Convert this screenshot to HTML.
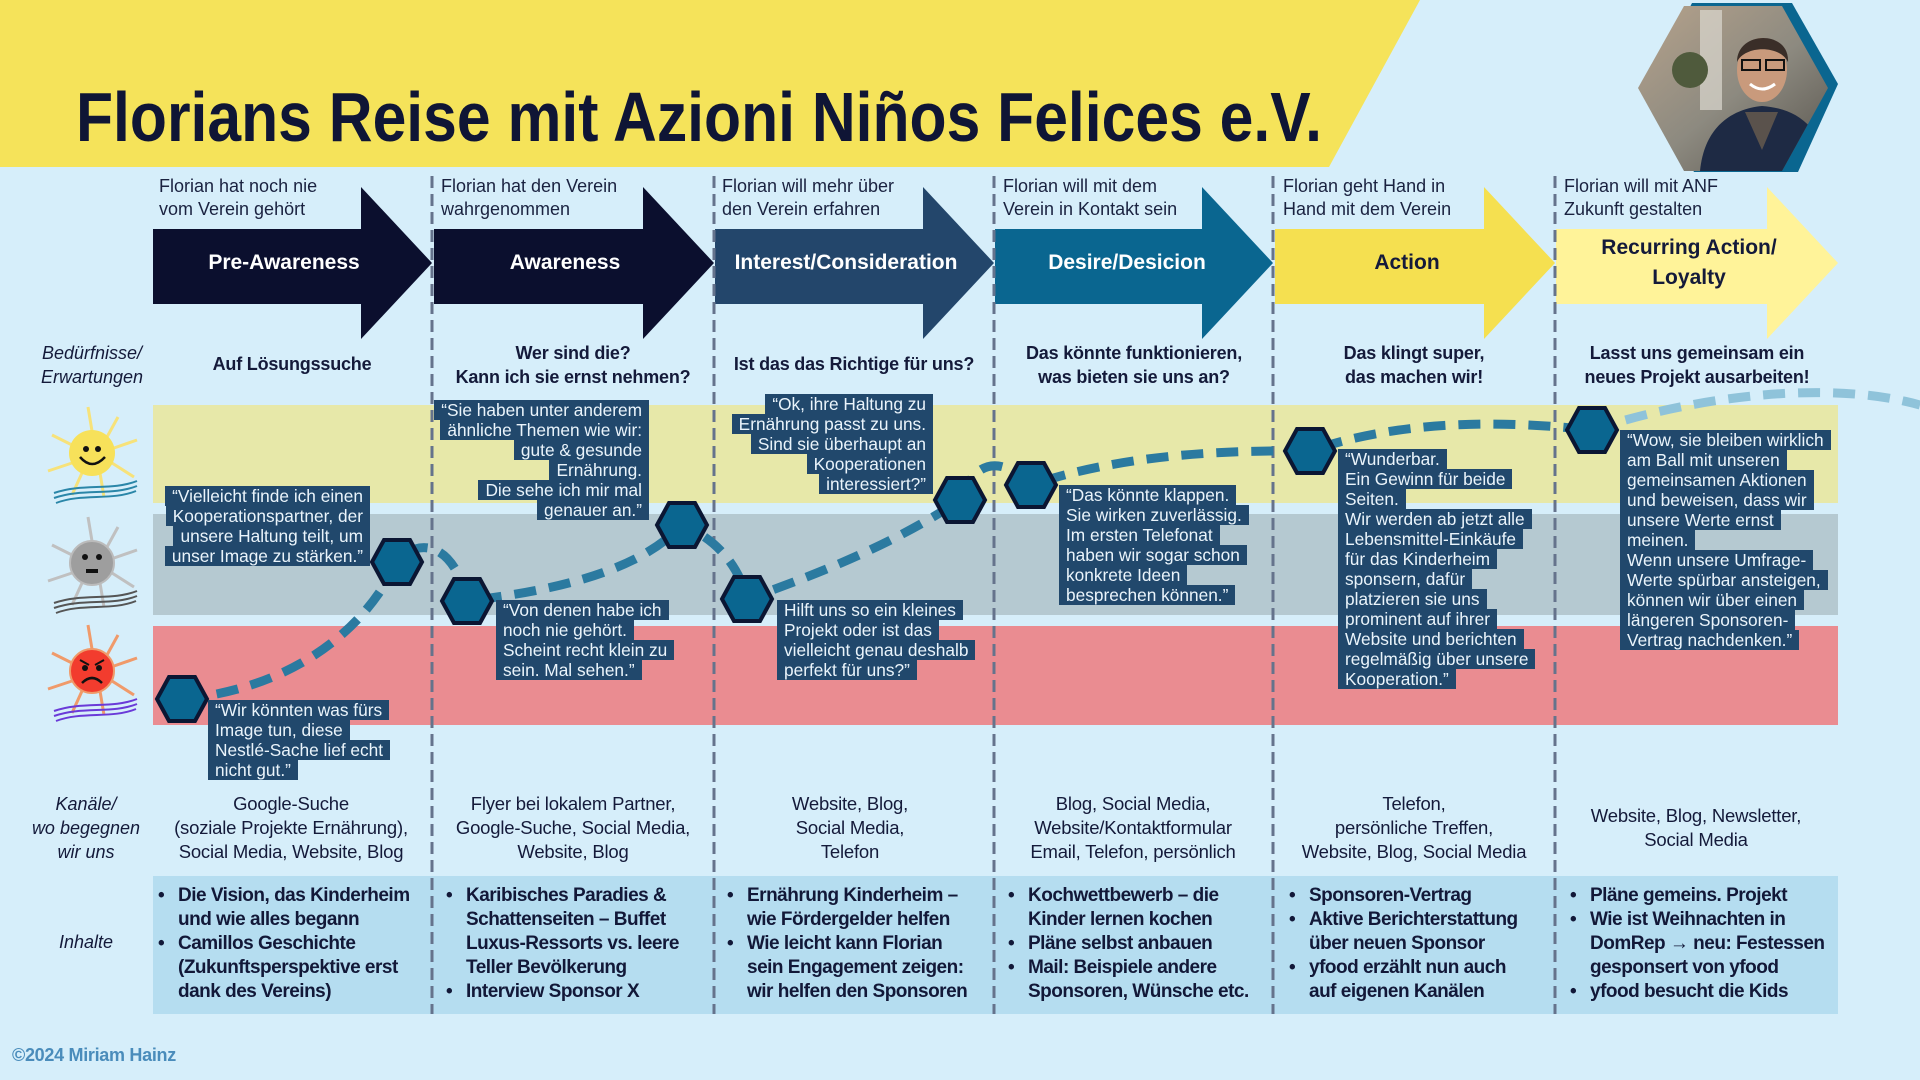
<!DOCTYPE html>
<html><head><meta charset="utf-8">
<style>
*{margin:0;padding:0;box-sizing:border-box}
body{width:1920px;height:1080px;overflow:hidden;background:#d6eefa;font-family:"Liberation Sans",sans-serif;position:relative;color:#141a3a}
.a{position:absolute}
.top{font-size:18px;line-height:23px;color:#1a2240}
.need{font-weight:bold;font-size:18px;line-height:24px;text-align:center;width:300px;margin-left:-150px;letter-spacing:-0.2px}
.ch{font-size:18.5px;line-height:24px;text-align:center;width:300px;margin-left:-150px;letter-spacing:-0.2px}
.lab{font-style:italic;font-size:18px;line-height:24px;text-align:center;width:160px;margin-left:-80px}
.q{position:absolute;font-size:17.3px;line-height:20px;color:#eaf4fb}
.q span{display:inline-block;background:#21486c;padding:0 7px;white-space:nowrap;vertical-align:top}
.q.r{text-align:right}
.ct{font-weight:bold;font-size:19px;line-height:24px;letter-spacing:-0.5px;color:#121838}
.ct div{position:relative;padding-left:20px}
.ct div:before{content:"•";position:absolute;left:0}
.al{font-weight:bold;font-size:21px;text-align:center;width:260px;margin-left:-130px;line-height:30px}
</style></head><body>
<svg class="a" style="left:0;top:0" width="1920" height="1080" viewBox="0 0 1920 1080">
<polygon points="0,0 1420,0 1329,167 0,167" fill="#f5e35a"/>
<text x="76" y="141" font-family="Liberation Sans" font-weight="bold" font-size="70" fill="#0f1535" textLength="1246" lengthAdjust="spacingAndGlyphs">Florians Reise mit Azioni Niños Felices e.V.</text>
<!-- photo -->
<polygon points="1648,88 1692,3 1792,3 1838,84 1798,172 1694,172" fill="#0a6690"/>
<defs><linearGradient id="pg" x1="0" x2="1" y1="0" y2="1"><stop offset="0" stop-color="#b9a48c"/><stop offset="0.5" stop-color="#8d8a80"/><stop offset="1" stop-color="#4e4a44"/></linearGradient>
<clipPath id="hc"><polygon points="1638,88 1684,6 1782,6 1828,88 1782,171 1684,171"/></clipPath></defs>
<g clip-path="url(#hc)">
<rect x="1630" y="0" width="220" height="180" fill="url(#pg)"/>
<rect x="1700" y="10" width="22" height="100" fill="#dcd8d0" opacity="0.7"/>
<circle cx="1690" cy="70" r="18" fill="#4f5a3c"/>
<path d="M1700,171 C1705,120 1740,108 1762,106 C1790,108 1820,120 1830,171 Z" fill="#1e2a44"/>
<path d="M1745,112 L1762,150 L1778,112 Z" fill="#5a524c"/>
<ellipse cx="1762" cy="70" rx="25" ry="32" fill="#c99a7c"/>
<path d="M1737,62 C1737,30 1790,30 1788,62 C1780,45 1745,45 1737,62Z" fill="#3a2e28"/>
<rect x="1742" y="60" width="18" height="10" fill="none" stroke="#111" stroke-width="2"/>
<rect x="1766" y="60" width="18" height="10" fill="none" stroke="#111" stroke-width="2"/>
<path d="M1750,84 Q1762,94 1775,84" stroke="#fff" stroke-width="3" fill="none"/>
</g>
<!-- bands -->
<rect x="153" y="405" width="1685" height="98" fill="#e7e8a9"/>
<rect x="153" y="514" width="1685" height="101" fill="#b5c9d1"/>
<rect x="153" y="626" width="1685" height="99" fill="#ea8c91"/>
<rect x="153" y="876" width="1685" height="138" fill="#b5ddf0"/>
<!-- arrows -->
<g>
<polygon points="153,229 361,229 361,187 432,263 361,339 361,304 153,304" fill="#0b0f2e"/>
<polygon points="434,229 643,229 643,187 714,263 643,339 643,304 434,304" fill="#0b0f2e"/>
<polygon points="715,229 923,229 923,187 994,263 923,339 923,304 715,304" fill="#23466b"/>
<polygon points="995,229 1202,229 1202,187 1273,263 1202,339 1202,304 995,304" fill="#0a6690"/>
<polygon points="1275,229 1484,229 1484,187 1555,263 1484,339 1484,304 1275,304" fill="#f5e050"/>
<polygon points="1556,229 1767,229 1767,187 1838,263 1767,339 1767,304 1556,304" fill="#fff399"/>
</g>
<!-- dividers -->
<g stroke="#65738c" stroke-width="3" stroke-dasharray="12 6">
<line x1="432" y1="176" x2="432" y2="1014"/><line x1="714" y1="176" x2="714" y2="1014"/><line x1="994" y1="176" x2="994" y2="1014"/><line x1="1273" y1="176" x2="1273" y2="1014"/><line x1="1555" y1="176" x2="1555" y2="1014"/>
</g>
<!-- path -->
<g fill="none" stroke-width="9" stroke-dasharray="22 13">
<path stroke="#2b7aa0" d="M182,699 C280,690 360,640 397,562 C420,535 455,545 467,601 C560,590 640,570 682,525 C720,540 740,570 747,599 C830,570 900,540 960,500 C975,460 1000,455 1031,485 C1120,455 1220,450 1310,451 C1400,420 1500,420 1592,430"/>
<path stroke="#8fc3da" d="M1592,430 C1700,395 1830,380 1920,405"/>
</g>
<!-- hexes -->
<g fill="#0a6690" stroke="#0b1633" stroke-width="4">
<polygon points="-25,0 -13,-22 13,-22 25,0 13,22 -13,22" transform="translate(182,699)"/>
<polygon points="-25,0 -13,-22 13,-22 25,0 13,22 -13,22" transform="translate(397,562)"/>
<polygon points="-25,0 -13,-22 13,-22 25,0 13,22 -13,22" transform="translate(467,601)"/>
<polygon points="-25,0 -13,-22 13,-22 25,0 13,22 -13,22" transform="translate(682,525)"/>
<polygon points="-25,0 -13,-22 13,-22 25,0 13,22 -13,22" transform="translate(747,599)"/>
<polygon points="-25,0 -13,-22 13,-22 25,0 13,22 -13,22" transform="translate(960,500)"/>
<polygon points="-25,0 -13,-22 13,-22 25,0 13,22 -13,22" transform="translate(1031,485)"/>
<polygon points="-25,0 -13,-22 13,-22 25,0 13,22 -13,22" transform="translate(1310,451)"/>
<polygon points="-25,0 -13,-22 13,-22 25,0 13,22 -13,22" transform="translate(1592,430)"/>
</g>
<!-- suns -->
<g transform="translate(92,453)">
<g stroke="#f7e27a" stroke-width="3">
<line x1="0" y1="-22" x2="-4" y2="-46"/><line x1="15" y1="-16" x2="26" y2="-36"/><line x1="22" y1="-5" x2="45" y2="-13"/><line x1="20" y1="10" x2="42" y2="24"/><line x1="8" y1="20" x2="12" y2="44"/><line x1="-10" y1="20" x2="-20" y2="42"/><line x1="-20" y1="10" x2="-44" y2="18"/><line x1="-20" y1="-8" x2="-40" y2="-18"/>
</g>
<circle r="23" fill="#f7e15a"/>
<circle cx="-6" cy="-4" r="3" fill="#111"/><circle cx="6" cy="-4" r="3" fill="#111"/>
<path d="M-12,4 Q0,18 13,4" stroke="#111" stroke-width="2.5" fill="none"/>
<path d="M-38,40 C-10,30 20,38 45,28 M-38,45 C-10,35 20,43 45,33 M-36,50 C-10,40 20,48 44,38" stroke="#2a86a8" stroke-width="2" fill="none"/>
</g>
<g transform="translate(92,563)">
<g stroke="#c0c0c0" stroke-width="3">
<line x1="0" y1="-22" x2="-4" y2="-46"/><line x1="15" y1="-16" x2="26" y2="-36"/><line x1="22" y1="-5" x2="45" y2="-13"/><line x1="20" y1="10" x2="42" y2="24"/><line x1="8" y1="20" x2="12" y2="44"/><line x1="-10" y1="20" x2="-20" y2="42"/><line x1="-20" y1="10" x2="-44" y2="18"/><line x1="-20" y1="-8" x2="-40" y2="-18"/>
</g>
<circle r="22" fill="#9e9e9e" stroke="#bbb" stroke-width="2"/>
<circle cx="-7" cy="-6" r="3" fill="#111"/><circle cx="7" cy="-6" r="3" fill="#111"/>
<rect x="-6" y="6" width="12" height="4" fill="#111"/>
<path d="M-38,40 C-10,30 20,38 45,28 M-38,45 C-10,35 20,43 45,33 M-36,50 C-10,40 20,48 44,38" stroke="#555" stroke-width="2" fill="none"/>
</g>
<g transform="translate(92,671)">
<g stroke="#f09a6a" stroke-width="3">
<line x1="0" y1="-22" x2="-4" y2="-46"/><line x1="15" y1="-16" x2="26" y2="-36"/><line x1="22" y1="-5" x2="45" y2="-13"/><line x1="20" y1="10" x2="42" y2="24"/><line x1="8" y1="20" x2="12" y2="44"/><line x1="-10" y1="20" x2="-20" y2="42"/><line x1="-20" y1="10" x2="-44" y2="18"/><line x1="-20" y1="-8" x2="-40" y2="-18"/>
</g>
<circle r="22" fill="#f23c2e" stroke="#f09a6a" stroke-width="2"/>
<circle cx="-7" cy="-3" r="3" fill="#111"/><circle cx="7" cy="-3" r="3" fill="#111"/>
<path d="M-12,-11 L-3,-6 M12,-11 L3,-6" stroke="#111" stroke-width="2"/>
<path d="M-10,12 Q0,2 10,12" stroke="#111" stroke-width="2.5" fill="none"/>
<path d="M-38,40 C-10,30 20,38 45,28 M-38,45 C-10,35 20,43 45,33 M-36,50 C-10,40 20,48 44,38" stroke="#6a3ad8" stroke-width="2" fill="none"/>
</g>
</svg>

<!-- top texts -->
<div class="a top" style="left:159px;top:175px">Florian hat noch nie<br>vom Verein gehört</div>
<div class="a top" style="left:441px;top:175px">Florian hat den Verein<br>wahrgenommen</div>
<div class="a top" style="left:722px;top:175px">Florian will mehr über<br>den Verein erfahren</div>
<div class="a top" style="left:1003px;top:175px">Florian will mit dem<br>Verein in Kontakt sein</div>
<div class="a top" style="left:1283px;top:175px">Florian geht Hand in<br>Hand mit dem Verein</div>
<div class="a top" style="left:1564px;top:175px">Florian will mit ANF<br>Zukunft gestalten</div>

<!-- arrow labels -->
<div class="a al" style="left:284px;top:248px;color:#fff">Pre-Awareness</div>
<div class="a al" style="left:565px;top:248px;color:#fff">Awareness</div>
<div class="a al" style="left:846px;top:248px;color:#fff">Interest/Consideration</div>
<div class="a al" style="left:1127px;top:248px;color:#fff">Desire/Desicion</div>
<div class="a al" style="left:1407px;top:248px;color:#141a3a">Action</div>
<div class="a al" style="left:1689px;top:233px;color:#141a3a">Recurring Action/<br>Loyalty</div>

<!-- needs -->
<div class="a lab" style="left:92px;top:341px">Bedürfnisse/<br>Erwartungen</div>
<div class="a need" style="left:292px;top:352px">Auf Lösungssuche</div>
<div class="a need" style="left:573px;top:341px">Wer sind die?<br>Kann ich sie ernst nehmen?</div>
<div class="a need" style="left:854px;top:352px">Ist das das Richtige für uns?</div>
<div class="a need" style="left:1134px;top:341px">Das könnte funktionieren,<br>was bieten sie uns an?</div>
<div class="a need" style="left:1414px;top:341px">Das klingt super,<br>das machen wir!</div>
<div class="a need" style="left:1697px;top:341px">Lasst uns gemeinsam ein<br>neues Projekt ausarbeiten!</div>

<!-- quotes -->
<div class="q" style="left:208px;top:700px"><span>“Wir könnten was fürs</span><br><span>Image tun, diese</span><br><span>Nestlé-Sache lief echt</span><br><span>nicht gut.”</span></div>
<div class="q r" style="right:1550px;top:486px"><span>“Vielleicht finde ich einen</span><br><span>Kooperationspartner, der</span><br><span>unsere Haltung teilt, um</span><br><span>unser Image zu stärken.”</span></div>
<div class="q r" style="right:1271px;top:400px"><span>“Sie haben unter anderem</span><br><span>ähnliche Themen wie wir:</span><br><span>gute &amp; gesunde</span><br><span>Ernährung.</span><br><span>Die sehe ich mir mal</span><br><span>genauer an.”</span></div>
<div class="q" style="left:496px;top:600px"><span>“Von denen habe ich</span><br><span>noch nie gehört.</span><br><span>Scheint recht klein zu</span><br><span>sein. Mal sehen.”</span></div>
<div class="q r" style="right:987px;top:394px"><span>“Ok, ihre Haltung zu</span><br><span>Ernährung passt zu uns.</span><br><span>Sind sie überhaupt an</span><br><span>Kooperationen</span><br><span>interessiert?”</span></div>
<div class="q" style="left:777px;top:600px"><span>Hilft uns so ein kleines</span><br><span>Projekt oder ist das</span><br><span>vielleicht genau deshalb</span><br><span>perfekt für uns?”</span></div>
<div class="q" style="left:1059px;top:485px"><span>“Das könnte klappen.</span><br><span>Sie wirken zuverlässig.</span><br><span>Im ersten Telefonat</span><br><span>haben wir sogar schon</span><br><span>konkrete Ideen</span><br><span>besprechen können.”</span></div>
<div class="q" style="left:1338px;top:449px"><span>“Wunderbar.</span><br><span>Ein Gewinn für beide</span><br><span>Seiten.</span><br><span>Wir werden ab jetzt alle</span><br><span>Lebensmittel-Einkäufe</span><br><span>für das Kinderheim</span><br><span>sponsern, dafür</span><br><span>platzieren sie uns</span><br><span>prominent auf ihrer</span><br><span>Website und berichten</span><br><span>regelmäßig über unsere</span><br><span>Kooperation.”</span></div>
<div class="q" style="left:1620px;top:430px"><span>“Wow, sie bleiben wirklich</span><br><span>am Ball mit unseren</span><br><span>gemeinsamen Aktionen</span><br><span>und beweisen, dass wir</span><br><span>unsere Werte ernst</span><br><span>meinen.</span><br><span>Wenn unsere Umfrage-</span><br><span>Werte spürbar ansteigen,</span><br><span>können wir über einen</span><br><span>längeren Sponsoren-</span><br><span>Vertrag nachdenken.”</span></div>

<!-- channels -->
<div class="a lab" style="left:86px;top:792px">Kanäle/<br>wo begegnen<br>wir uns</div>
<div class="a ch" style="left:291px;top:792px">Google-Suche<br>(soziale Projekte Ernährung),<br>Social Media, Website, Blog</div>
<div class="a ch" style="left:573px;top:792px">Flyer bei lokalem Partner,<br>Google-Suche, Social Media,<br>Website, Blog</div>
<div class="a ch" style="left:850px;top:792px">Website, Blog,<br>Social Media,<br>Telefon</div>
<div class="a ch" style="left:1133px;top:792px">Blog, Social Media,<br>Website/Kontaktformular<br>Email, Telefon, persönlich</div>
<div class="a ch" style="left:1414px;top:792px">Telefon,<br>persönliche Treffen,<br>Website, Blog, Social Media</div>
<div class="a ch" style="left:1696px;top:804px">Website, Blog, Newsletter,<br>Social Media</div>

<!-- contents -->
<div class="a lab" style="left:86px;top:930px">Inhalte</div>
<div class="a ct" style="left:158px;top:884px"><div>Die Vision, das Kinderheim<br>und wie alles begann</div><div>Camillos Geschichte<br>(Zukunftsperspektive erst<br>dank des Vereins)</div></div>
<div class="a ct" style="left:446px;top:884px"><div>Karibisches Paradies &amp;<br>Schattenseiten – Buffet<br>Luxus-Ressorts vs. leere<br>Teller Bevölkerung</div><div>Interview Sponsor X</div></div>
<div class="a ct" style="left:727px;top:884px"><div>Ernährung Kinderheim –<br>wie Fördergelder helfen</div><div>Wie leicht kann Florian<br>sein Engagement zeigen:<br>wir helfen den Sponsoren</div></div>
<div class="a ct" style="left:1008px;top:884px"><div>Kochwettbewerb – die<br>Kinder lernen kochen</div><div>Pläne selbst anbauen</div><div>Mail: Beispiele andere<br>Sponsoren, Wünsche etc.</div></div>
<div class="a ct" style="left:1289px;top:884px"><div>Sponsoren-Vertrag</div><div>Aktive Berichterstattung<br>über neuen Sponsor</div><div>yfood erzählt nun auch<br>auf eigenen Kanälen</div></div>
<div class="a ct" style="left:1570px;top:884px"><div>Pläne gemeins. Projekt</div><div>Wie ist Weihnachten in<br>DomRep → neu: Festessen<br>gesponsert von yfood</div><div>yfood besucht die Kids</div></div>

<div class="a" style="left:12px;top:1045px;font-weight:bold;font-size:18px;color:#4a8cbb;letter-spacing:-0.3px">©2024 Miriam Hainz</div>
</body></html>
